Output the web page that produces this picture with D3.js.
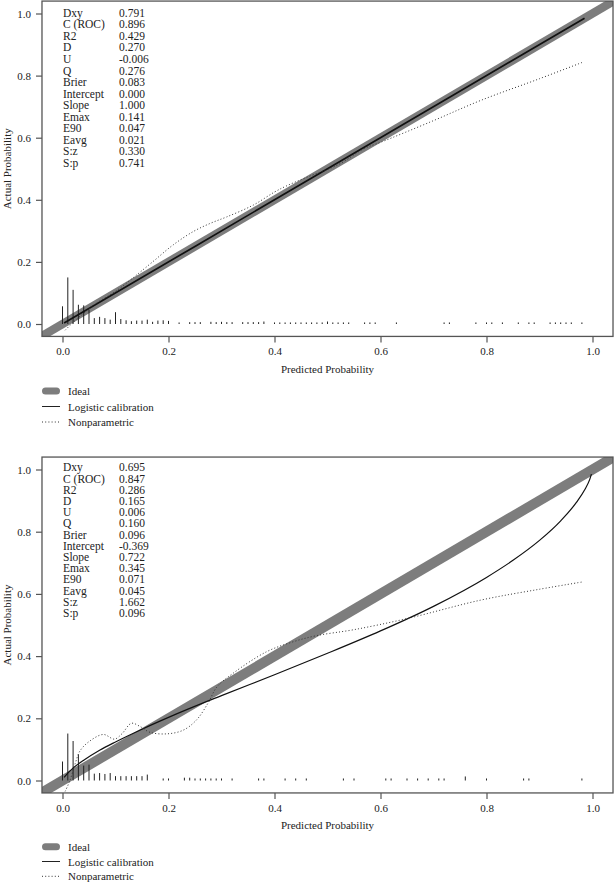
<!DOCTYPE html>
<html>
<head>
<meta charset="utf-8">
<script src="https://cdn.jsdelivr.net/npm/d3@7"></script>
<style>
  html, body { margin: 0; padding: 0; background: #fff; }
  svg { display: block; }
  text { font-family: "Liberation Serif", "DejaVu Serif", serif; fill: #222; }
</style>
</head>
<body>
<script>
// ---------- data ----------
const xTicks = [0, 0.2, 0.4, 0.6, 0.8, 1.0];
const yTicks = [0, 0.2, 0.4, 0.6, 0.8, 1.0];
const xLim = [-0.0387, 1.0387];
const yLim = [-0.04, 1.04];

const statNames = ["Dxy", "C (ROC)", "R2", "D", "U", "Q", "Brier", "Intercept", "Slope", "Emax", "E90", "Eavg", "S:z", "S:p"];
const statsTop = ["0.791", "0.896", "0.429", "0.270", "-0.006", "0.276", "0.083", "0.000", "1.000", "0.141", "0.047", "0.021", "0.330", "0.741"];
const statsBottom = ["0.695", "0.847", "0.286", "0.165", "0.006", "0.160", "0.096", "-0.369", "0.722", "0.345", "0.071", "0.045", "1.662", "0.096"];

const legendLabels = ["Ideal", "Logistic calibration", "Nonparametric"];

// spike histogram (predicted probability bin, relative height)
const spikeXTop = [0.00,0.01,0.02,0.03,0.04,0.05,0.06,0.07,0.08,0.09,0.10,0.11,0.12,0.13,0.14,0.15,0.16,0.17,0.18,0.19,0.20,
  0.22,0.24,0.25,0.26,0.28,0.29,0.30,0.31,0.32,0.34,0.35,0.36,0.37,0.38,0.40,0.41,0.42,0.43,0.44,0.45,0.46,0.47,0.48,0.49,
  0.50,0.51,0.52,0.53,0.54,0.57,0.58,0.59,0.63,0.72,0.73,0.78,0.80,0.81,0.83,0.86,0.88,0.89,0.92,0.93,0.94,0.95,0.96,0.98];
const spikeHTop = [0.057,0.150,0.110,0.062,0.060,0.046,0.019,0.023,0.019,0.014,0.038,0.016,0.012,0.009,0.011,0.011,0.014,0.007,0.011,0.012,0.010,
  0.005,0.006,0.006,0.006,0.007,0.006,0.007,0.006,0.006,0.006,0.006,0.006,0.006,0.008,0.005,0.005,0.005,0.005,0.005,0.005,0.005,0.005,0.005,0.005,
  0.008,0.005,0.005,0.005,0.005,0.005,0.005,0.005,0.005,0.005,0.005,0.005,0.005,0.005,0.005,0.005,0.005,0.005,0.005,0.005,0.005,0.005,0.005,0.005];

const spikeXBottom = [0.00,0.01,0.02,0.03,0.04,0.05,0.06,0.07,0.08,0.09,0.10,0.11,0.12,0.13,0.14,0.15,0.16,
  0.19,0.20,0.23,0.24,0.25,0.26,0.27,0.28,0.29,0.30,0.32,0.37,0.38,0.42,0.44,0.46,0.53,0.55,0.61,0.62,0.65,0.67,0.69,0.71,0.72,0.76,0.80,0.87,0.88,0.98];
const spikeHBottom = [0.061,0.151,0.127,0.084,0.048,0.051,0.022,0.024,0.021,0.024,0.014,0.014,0.014,0.014,0.014,0.014,0.019,
  0.0065,0.0065,0.009,0.009,0.0065,0.0065,0.0065,0.0065,0.0065,0.0065,0.0065,0.0065,0.0065,0.0065,0.0065,0.0065,0.0065,0.0065,0.0065,0.0065,0.0065,0.0065,0.0065,0.0065,0.0065,0.013,0.0065,0.0065,0.0065,0.0065];

// logistic calibration curves
const logisticTop = [[0.003,0.003],[0.5,0.5],[0.985,0.985]];
const logisticBottom = [[0.003,0.010],[0.01,0.024],[0.02,0.040],[0.04,0.065],[0.07,0.097],[0.10,0.124],[0.15,0.165],[0.20,0.203],
  [0.30,0.273],[0.40,0.340],[0.50,0.409],[0.60,0.481],[0.70,0.560],[0.80,0.653],[0.85,0.708],[0.90,0.772],[0.94,0.835],
  [0.97,0.895],[0.985,0.934],[0.995,0.969],[0.998,0.985]];

// nonparametric curves
const nonparTop = [[0.005,-0.02],[0.02,0.005],[0.04,0.035],[0.064,0.067],[0.10,0.105],[0.134,0.150],[0.17,0.200],[0.209,0.255],
  [0.247,0.298],[0.28,0.325],[0.31,0.345],[0.36,0.383],[0.40,0.425],[0.423,0.445],[0.46,0.472],[0.52,0.513],[0.569,0.565],
  [0.60,0.585],[0.70,0.655],[0.789,0.720],[0.90,0.790],[0.983,0.844]];
const nonparBottom = [[0.005,-0.035],[0.014,0.0],[0.024,0.055],[0.033,0.095],[0.05,0.125],[0.077,0.148],[0.098,0.133],[0.112,0.150],
  [0.13,0.184],[0.145,0.175],[0.165,0.155],[0.197,0.150],[0.228,0.162],[0.253,0.195],[0.275,0.250],[0.291,0.300],[0.322,0.345],
  [0.385,0.414],[0.435,0.446],[0.48,0.466],[0.55,0.485],[0.651,0.521],[0.789,0.580],[0.90,0.615],[0.983,0.639]];

// ---------- drawing ----------
const W = 614, H = 882;
const svg = d3.select("body").append("svg").attr("width", W).attr("height", H);

function panel(cfg) {
  const x = d3.scaleLinear().domain([0, 1]).range([62.5, 592.5]);
  const y = d3.scaleLinear().domain([0, 1]).range(cfg.yRange);
  const L = x(xLim[0]), R = x(xLim[1]), T = y(yLim[1]), B = y(yLim[0]);
  const g = svg.append("g");
  const clipId = "clip" + cfg.id;
  g.append("clipPath").attr("id", clipId).append("rect")
    .attr("x", L).attr("y", T).attr("width", R - L).attr("height", B - T);
  const pg = g.append("g").attr("clip-path", `url(#${clipId})`);

  // ideal
  pg.append("line")
    .attr("x1", x(-0.1)).attr("y1", y(-0.1)).attr("x2", x(1.1)).attr("y2", y(1.1))
    .attr("stroke", "#7d7d7d").attr("stroke-width", cfg.idealW);

  // spikes
  pg.selectAll("line.spk").data(cfg.spikeX).join("line").attr("class", "spk")
    .attr("x1", d => x(d)).attr("x2", d => x(d))
    .attr("y1", y(0)).attr("y2", (d, i) => y(cfg.spikeH[i]))
    .attr("stroke", "#222").attr("stroke-width", 1);

  // logistic
  pg.append("path").datum(cfg.logistic)
    .attr("d", d3.line().x(d => x(d[0])).y(d => y(d[1])).curve(d3.curveMonotoneX))
    .attr("fill", "none").attr("stroke", "#111").attr("stroke-width", cfg.logW);

  // nonparametric
  pg.append("path").datum(cfg.nonpar)
    .attr("d", d3.line().x(d => x(d[0])).y(d => y(d[1])).curve(d3.curveCatmullRom.alpha(0.5)))
    .attr("fill", "none").attr("stroke", "#333").attr("stroke-width", 1)
    .attr("stroke-dasharray", "1 2.2");

  // box
  g.append("rect").attr("x", L).attr("y", T).attr("width", R - L).attr("height", B - T)
    .attr("fill", "none").attr("stroke", "#555").attr("stroke-width", 1.3);

  // axes
  const ax = g.append("g").attr("transform", `translate(0,${B})`)
    .call(d3.axisBottom(x).tickValues(xTicks).tickFormat(d3.format(".1f")).tickSize(6).tickPadding(5));
  const ay = g.append("g").attr("transform", `translate(${L},0)`)
    .call(d3.axisLeft(y).tickValues(yTicks).tickFormat(d3.format(".1f")).tickSize(6).tickPadding(5));
  [ax, ay].forEach(a => {
    a.select(".domain").remove();
    a.selectAll(".tick line").attr("stroke", "#555").attr("stroke-width", 1.2);
    a.selectAll(".tick text").attr("font-size", 11).attr("fill", "#222")
      .style("font-family", '"Liberation Serif", serif');
  });

  // axis titles
  g.append("text").attr("x", (L + R) / 2).attr("y", cfg.xTitleY)
    .attr("text-anchor", "middle").attr("dominant-baseline", "central")
    .attr("font-size", 11).text("Predicted Probability");
  g.append("text").attr("transform", `translate(7,${(T + B) / 2}) rotate(-90)`)
    .attr("text-anchor", "middle").attr("dominant-baseline", "central")
    .attr("font-size", 11).text("Actual Probability");

  // stats
  const st = g.append("g");
  statNames.forEach((n, i) => {
    const yy = cfg.statY0 + i * cfg.statDy;
    st.append("text").attr("x", 63).attr("y", yy).attr("dominant-baseline", "central")
      .attr("font-size", 11.5).text(n);
    st.append("text").attr("x", 119).attr("y", yy).attr("dominant-baseline", "central")
      .attr("font-size", 11.5).text(cfg.stats[i]);
  });

  // legend
  const lg = g.append("g");
  legendLabels.forEach((lab, i) => {
    const yy = cfg.legY0 + i * cfg.legDy;
    const ln = lg.append("line").attr("x1", i === 0 ? 45.5 : 42).attr("x2", i === 0 ? 56.5 : 60)
      .attr("y1", yy).attr("y2", yy);
    if (i === 0) ln.attr("stroke", "#7d7d7d").attr("stroke-width", 7).attr("stroke-linecap", "round");
    else if (i === 1) ln.attr("stroke", "#222").attr("stroke-width", 1);
    else ln.attr("stroke", "#333").attr("stroke-width", 1).attr("stroke-dasharray", "1 2.2");
    lg.append("text").attr("x", 68).attr("y", yy).attr("dominant-baseline", "central")
      .attr("font-size", 11).text(lab);
  });
}

panel({
  id: "A", yRange: [324, 13.5], idealW: 8.5, logW: 1.7,
  spikeX: spikeXTop, spikeH: spikeHTop, logistic: logisticTop, nonpar: nonparTop,
  stats: statsTop, statY0: 12.7, statDy: 11.56, xTitleY: 369,
  legY0: 391, legDy: 15.5
});
panel({
  id: "B", yRange: [780.5, 469.5], idealW: 10, logW: 1.2,
  spikeX: spikeXBottom, spikeH: spikeHBottom, logistic: logisticBottom, nonpar: nonparBottom,
  stats: statsBottom, statY0: 467.3, statDy: 11.2, xTitleY: 825,
  legY0: 846.7, legDy: 14.8
});
</script>
</body>
</html>
